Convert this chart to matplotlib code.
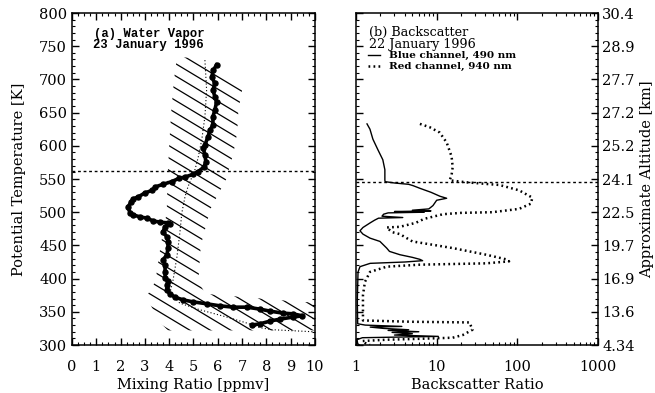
import numpy as np
import matplotlib
matplotlib.use('Agg')
import matplotlib.pyplot as plt
from matplotlib.patches import Polygon
from matplotlib.collections import LineCollection
from matplotlib.ticker import MultipleLocator, LogLocator, NullFormatter

plt.rcParams['font.family'] = 'DejaVu Serif'
plt.rcParams['font.size'] = 10.5

# (a) water vapour profile, mixing ratio [ppmv] vs potential temperature [K]
wv_theta = [722, 714, 704, 694, 684, 674, 666, 654, 644, 631, 624, 614, 601, 597,
            586, 576, 568, 561, 557, 553, 551, 546, 542, 538, 533, 529, 523, 520,
            515, 508, 499, 496, 493, 491, 487, 485, 484, 482, 478, 470, 463, 455,
            446, 436, 428, 420, 410, 401, 396, 390, 383, 377, 372, 368, 365, 362,
            359, 357, 357, 354, 351, 348, 347, 344, 342, 339, 336, 332, 330]
wv_mix = [5.95, 5.82, 5.75, 5.88, 5.8, 5.88, 5.95, 5.88, 5.8, 5.8, 5.68, 5.6, 5.47, 5.4,
          5.47, 5.51, 5.43, 5.19, 4.98, 4.65, 4.4, 4.1, 3.74, 3.42, 3.3, 3.0, 2.72, 2.51,
          2.43, 2.3, 2.39, 2.51, 2.8, 3.09, 3.33, 3.62, 3.95, 4.03, 3.83, 3.74, 3.91, 3.95,
          3.95, 3.91, 3.74, 3.83, 3.83, 3.83, 3.95, 3.91, 3.91, 4.03, 4.24, 4.57, 4.98, 5.56,
          6.09, 6.63, 7.2, 7.74, 8.15, 8.68, 9.09, 9.47, 9.09, 8.56, 8.15, 7.74, 7.4]

# reference profile (thin dotted)
ref_theta = [729, 684, 644, 609, 582, 564, 538, 523, 499, 469, 433, 398, 378, 363,
             353, 342, 333, 326, 323, 320]
ref_mix = [5.47, 5.54, 5.47, 5.34, 5.19, 5.06, 4.77, 4.65, 4.52, 4.44, 4.32, 4.16, 4.03,
           4.44, 5.27, 6.38, 7.2, 7.74, 8.27, 9.92]

# hatched uncertainty band outline
band_mix = [4.32, 4.2, 4.08, 4.0, 3.93, 3.9, 3.65, 3.45, 3.35, 3.05, 3.65, 3.95,
            10.0, 10.0, 9.4, 5.5, 5.2, 5.3, 5.7, 6.35, 6.65, 6.8, 6.85, 6.95, 7.05, 7.15, 7.15]
band_theta = [733, 700, 650, 600, 550, 500, 450, 400, 390, 372, 333, 322,
              322, 364, 365, 377, 395, 450, 505, 550, 590, 620, 655, 673, 695, 712, 733]

wv_tropopause = 562

# (b) backscatter ratio
blue_theta = [633, 625, 610, 594, 579, 564, 548, 546, 544, 542, 540, 536, 530, 524, 521,
              518, 510, 505, 503, 502, 501, 500, 499, 497, 494, 492, 491, 488, 484, 477,
              472, 467, 461, 456, 446, 441, 436, 432, 429, 427, 425, 423, 418, 410, 390,
              370, 362, 332, 330, 328, 327, 325, 323, 322, 320, 319, 317, 315, 313, 311,
              308, 302, 300]
blue_ratio = [1.37, 1.49, 1.62, 1.87, 2.15, 2.28, 2.28, 2.3, 3.0, 4.5, 5.1, 6.2, 8.5, 11.0, 13.3,
              10.0, 9.0, 8.0, 5.0, 8.5, 3.0, 7.0, 2.5, 2.2, 2.1, 3.8, 1.9, 1.7, 1.5, 1.22,
              1.12, 1.22, 1.49, 1.98, 2.4, 2.6, 3.5, 5.0, 6.2, 6.7, 4.0, 1.5, 1.12, 1.06, 1.05,
              1.04, 1.04, 1.05, 1.3, 3.7, 1.5, 2.2, 4.5, 2.5, 6.0, 2.8, 5.0, 3.0, 10.5, 1.2,
              1.03, 1.05, 1.1]

red_theta = [633, 628, 620, 605, 584, 568, 556, 548, 545, 541, 533, 522, 513, 505, 500,
             499, 497, 490, 484, 478, 477, 470, 467, 456, 446, 436, 429, 426, 423, 421,
             418, 410, 395, 375, 349, 337, 335, 334, 323, 315, 311, 309, 308, 306, 303, 300]
red_ratio = [6.2, 8.2, 10.9, 13.3, 15.3, 15.8, 15.3, 14.5, 23.5, 60, 105, 153, 148, 105, 49,
             20, 12, 7.0, 5.5, 3.5, 2.4, 2.8, 3.5, 5.0, 15.8, 41, 73, 79, 41, 6.2,
             2.4, 1.49, 1.29, 1.22, 1.22, 1.22, 5.0, 25.5, 27.8, 21, 15.8, 5.0, 2.4, 1.2, 1.3, 1.49]

bs_tropopause = 546

theta_ticks = [300, 350, 400, 450, 500, 550, 600, 650, 700, 750, 800]
alt_labels = ['4.34', '13.6', '16.9', '19.7', '22.5', '24.1', '25.2', '27.2', '27.7', '28.9', '30.4']

fig = plt.figure(figsize=(6.55, 3.93), dpi=100)
ax1 = fig.add_axes([0.1099, 0.1221, 0.371, 0.8448])
ax2 = fig.add_axes([0.5435, 0.1221, 0.3695, 0.8448])

# ---- panel a
band = Polygon(np.column_stack([band_mix, band_theta]), closed=True, fill=False,
               edgecolor='none')
ax1.add_patch(band)
segs = []
for c in np.arange(836, 400, -18.5):
    segs.append([(0, c), (10, c - 22 * 10)])
hatch = LineCollection(segs, colors='k', linewidths=0.9)
ax1.add_collection(hatch)
hatch.set_clip_path(band)

ax1.plot(ref_mix, ref_theta, color='k', lw=0.8, ls=(0, (1, 2)))
ax1.plot(wv_mix, wv_theta, 'o-', color='k', ms=3.6, lw=2.6)
ax1.axhline(wv_tropopause, color='k', lw=1.0, ls=(0, (2, 2)))

ax1.set_xlim(0, 10)
ax1.set_ylim(300, 800)
ax1.xaxis.set_major_locator(MultipleLocator(1))
ax1.xaxis.set_minor_locator(MultipleLocator(0.25))
ax1.set_yticks(theta_ticks)
ax1.yaxis.set_minor_locator(MultipleLocator(10))
ax1.tick_params(which='both', direction='in', top=True, right=True)
ax1.tick_params(which='major', length=5, width=1)
ax1.tick_params(which='minor', length=2.5, width=0.8)
ax1.tick_params(axis='x', pad=11)
ax1.set_xlabel('Mixing Ratio [ppmv]', labelpad=3)
ax1.set_ylabel('Potential Temperature [K]', labelpad=9)
ax1.text(0.09, 0.937, '(a) Water Vapor', transform=ax1.transAxes, va='center',
         family='Liberation Mono', weight='bold', fontsize=8.8)
ax1.text(0.086, 0.904, '23 January 1996', transform=ax1.transAxes, va='center',
         family='Liberation Mono', weight='bold', fontsize=8.8)

# ---- panel b
ax2.plot(blue_ratio, blue_theta, color='k', lw=1.0, label='Blue channel, 490 nm')
ax2.plot(red_ratio, red_theta, color='k', lw=1.8, ls=(0, (0.7, 1.3)),
         label='Red channel, 940 nm')
ax2.axhline(bs_tropopause, color='k', lw=1.0, ls=(0, (2, 2)))

ax2.set_xscale('log')
ax2.set_xlim(1, 1000)
ax2.set_ylim(300, 800)
ax2.xaxis.set_major_locator(LogLocator(base=10))
ax2.xaxis.set_minor_locator(LogLocator(base=10, subs=np.arange(2, 10)))
ax2.xaxis.set_minor_formatter(NullFormatter())
ax2.set_xticks([1, 10, 100, 1000])
ax2.set_xticklabels(['1', '10', '100', '1000'])
ax2.set_yticks(theta_ticks)
ax2.set_yticklabels(alt_labels)
ax2.yaxis.set_minor_locator(MultipleLocator(10))
ax2.tick_params(which='both', direction='in', top=True, left=True, right=True,
                labelleft=False, labelright=True)
ax2.tick_params(which='major', length=5, width=1)
ax2.tick_params(which='minor', length=2.5, width=0.8)
ax2.tick_params(axis='x', pad=11)
ax2.tick_params(axis='y', pad=3)
ax2.set_xlabel('Backscatter Ratio', labelpad=3)
ax2.yaxis.set_label_position('right')
ax2.set_ylabel('Approximate Altitude [km]', labelpad=4)
ax2.text(0.054, 0.94, '(b) Backscatter', transform=ax2.transAxes, va='center', fontsize=9.2)
ax2.text(0.054, 0.904, '22 January 1996', transform=ax2.transAxes, va='center', fontsize=9.2)
ax2.legend(loc='upper left', bbox_to_anchor=(0.05, 0.885), borderaxespad=0, borderpad=0,
           handlelength=1.1, handletextpad=0.9, labelspacing=0.15, frameon=False,
           prop=dict(family='DejaVu Serif', weight='bold', size=7.5))

for ax in (ax1, ax2):
    for s in ax.spines.values():
        s.set_linewidth(1.1)

fig.savefig('out.png', dpi=100)
